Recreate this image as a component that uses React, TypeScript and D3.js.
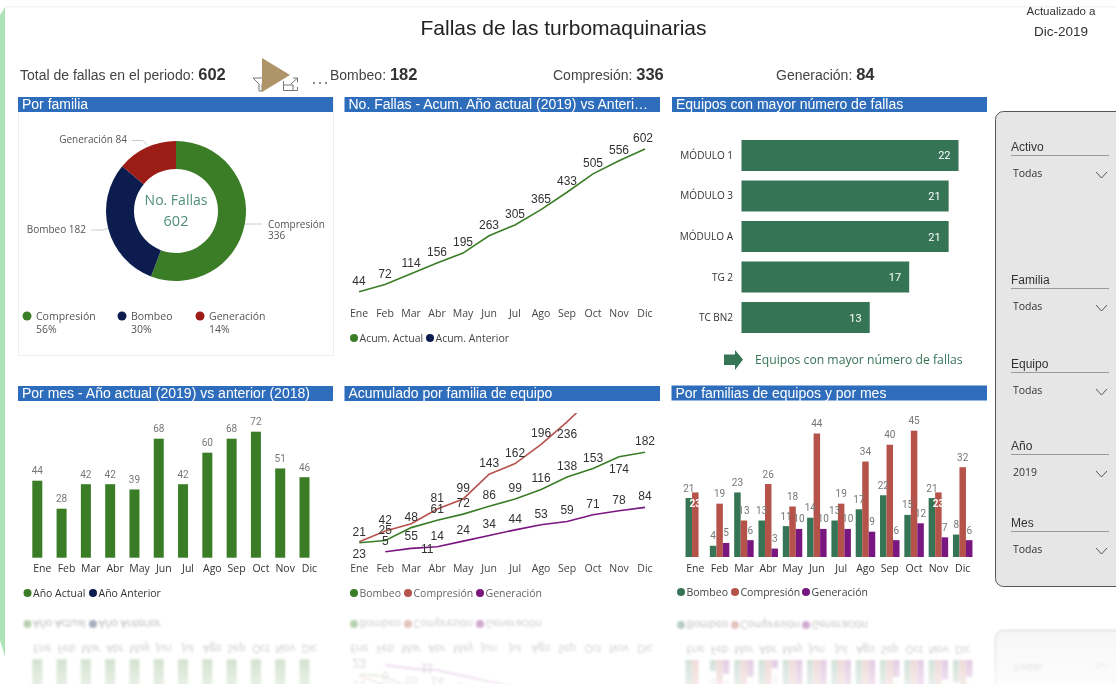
import React from "react";
import * as d3 from "d3";

const months = ["Ene","Feb","Mar","Abr","May","Jun","Jul","Ago","Sep","Oct","Nov","Dic"];
const familyNames = ["Compresión","Bombeo","Generación"];
const familyTotals = [336,182,84];
const familyShares = ["56%","30%","14%"];
const acumActual = [44,72,114,156,195,263,305,365,433,505,556,602];
const porMes = [44,28,42,42,39,68,42,60,68,72,51,46];
const equipos = ["MÓDULO 1","MÓDULO 3","MÓDULO A","TG 2","TC BN2"];
const equipoFallas = [22,21,21,17,13];
const bombeoMes = [21,4,23,13,11,14,13,17,22,15,21,8];
const compresionMes = [23,19,13,26,18,44,19,34,40,45,23,32];
const generacionMes = [0,5,6,3,10,10,10,9,6,12,7,6];
const bombeoAcum = [21,25,48,61,72,86,99,116,138,153,174,182];
const compresionAcum = [23,42,55,81,99,143,162,196,236,281,304,336];
const generacionAcum = [null,5,11,14,24,34,44,53,59,71,78,84];

const GREEN="#3a7d27", NAVY="#0a1f4f", DKRED="#9c1c13", TEAL="#367556", RED="#b5534c", PURPLE="#7a1580", HDR="#2f6dbb";
const ARIAL="'Liberation Sans', Arial, sans-serif", SEGOE="'Open Sans', 'Noto Sans', sans-serif", DIN="Roboto, sans-serif";

const Header=({x0,x1,y,text}:any)=>(<g>
  <rect x={x0} y={y} width={x1-x0} height={15} fill={HDR}/>
  <text x={x0+4} y={y+12} fontFamily={ARIAL} fontSize={14} fill="#fff">{text}</text>
</g>);
const Legend=({items,y,color="#444"}:any)=>(<g fontFamily={SEGOE} fontSize={10.5} fill={color}>
  {items.map((it:any)=>(<g key={it.t}>
    <circle cx={it.x} cy={y} r={4} fill={it.c}/>
    <text x={it.x+5.5} y={y+3.8}>{it.t}</text>
  </g>))}
</g>);
const Months=({scale,y,color="#444",dx=0}:any)=>(<g fontFamily={SEGOE} fontSize={10.5} fill={color} textAnchor="middle">
  {months.map(m=><text key={m} x={scale(m)+dx} y={y}>{m}</text>)}
</g>);
const Slicer=({label,value,y}:any)=>(<g>
  <text x={1011} y={y} fontFamily={ARIAL} fontSize={12} fill="#333">{label}</text>
  <line x1={1011} x2={1109} y1={y+4.5} y2={y+4.5} stroke="#999"/>
  <text x={1013} y={y+26} fontFamily={SEGOE} fontSize={10.5} fill="#333">{value}</text>
  <path d={`M1096 ${y+21} l5.5 6 l5.5 -6`} fill="none" stroke="#555"/>
</g>);

function Donut(){
  const arcs=d3.pie<number>().sort(null)(familyTotals);
  const arc=d3.arc<any>().innerRadius(42).outerRadius(70);
  const colors=[GREEN,NAVY,DKRED];
  const leg=[27,122,200];
  return <g>
    <rect x={18.5} y={97.5} width={315} height={258} fill="#fff" stroke="#eee"/>
    <Header x0={18} x1={333} y={97} text="Por familia"/>
    <g transform="translate(176,211)">
      {arcs.map((a,i)=><path key={i} d={arc(a) as string} fill={colors[i]}/>)}
      <text y={-6} textAnchor="middle" fontFamily={SEGOE} fontSize={14} fill="#4e8f78">No. Fallas</text>
      <text y={15} textAnchor="middle" fontFamily={SEGOE} fontSize={14.5} fill="#4e8f78">{familyTotals[0]+familyTotals[1]+familyTotals[2]}</text>
    </g>
    <g fontFamily={SEGOE} fontSize={10} fill="#555">
      <text x={127} y={143} textAnchor="end">{`${familyNames[2]} ${familyTotals[2]}`}</text>
      <text x={86} y={233} textAnchor="end">{`${familyNames[1]} ${familyTotals[1]}`}</text>
      <text x={268} y={228}>{familyNames[0]}</text>
      <text x={268} y={239}>{familyTotals[0]}</text>
      <path d="M132 140.5 H143 L147 145 M91 230 H103 L108 228.5 M245 224 H262" fill="none" stroke="#ccc"/>
    </g>
    <g fontFamily={SEGOE} fontSize={10.5} fill="#555">
      {familyNames.map((n,i)=><g key={n}>
        <circle cx={leg[i]} cy={316} r={4.5} fill={colors[i]}/>
        <text x={leg[i]+9} y={319.5}>{n}</text>
        <text x={leg[i]+9} y={333}>{familyShares[i]}</text>
      </g>)}
    </g>
  </g>;
}
function AcumLine(){
  const x=d3.scalePoint().domain(months).range([359,645]);
  const y=d3.scaleLinear().domain([0,602]).range([303,149]);
  const line=d3.line<number>().x((_,i)=>x(months[i])!).y(d=>y(d));
  return <g>
    <Header x0={344.5} x1={660} y={97} text="No. Fallas - Acum. Año actual (2019) vs Anteri…"/>
    <path d={line(acumActual)!} fill="none" stroke={GREEN} strokeWidth={1.6}/>
    <g fontFamily={ARIAL} fontSize={12} fill="#333" textAnchor="middle">
      {acumActual.map((v,i)=><text key={i} x={x(months[i])!-(i===11?2:0)} y={y(v)-7}>{v}</text>)}
    </g>
    <Months scale={x} y={317}/>
    <Legend y={338} items={[{x:354,t:"Acum. Actual",c:GREEN},{x:430,t:"Acum. Anterior",c:NAVY}]}/>
  </g>;
}
function HBars(){
  const y=d3.scaleBand().domain(equipos).range([140,333]).paddingInner(0.2346);
  const x=d3.scaleLinear().domain([0,22]).range([741.5,958.5]);
  return <g>
    <Header x0={672} x1={987} y={97} text="Equipos con mayor número de fallas"/>
    {equipos.map((e,i)=><g key={e}>
      <rect x={x(0)} y={y(e)} width={x(equipoFallas[i])-x(0)} height={y.bandwidth()} fill={TEAL}/>
      <text x={733} y={y(e)!+y.bandwidth()/2+3.5} textAnchor="end" fontFamily={SEGOE} fontSize={10} fill="#333">{e}</text>
      <text x={x(equipoFallas[i])-8} y={y(e)!+y.bandwidth()/2+4} textAnchor="end" fontFamily={DIN} fontSize={11} fill="#fff">{equipoFallas[i]}</text>
    </g>)}
    <path d="M724 354.5 H735 V350 L743 359.5 L735 370 V365 H724 Z" fill={TEAL}/>
    <text x={755} y={363.5} fontFamily={SEGOE} fontSize={12.2} fill={TEAL}>Equipos con mayor número de fallas</text>
  </g>;
}
function MesBars(){
  const x=d3.scalePoint().domain(months).range([37.3,304.5]);
  const y=d3.scaleLinear().domain([0,72]).range([557.7,431.7]);
  return <g>
    <Header x0={18} x1={333} y={386} text="Por mes - Año actual (2019) vs anterior (2018)"/>
    {porMes.map((v,i)=><g key={i}>
      <rect x={x(months[i])!-5} y={y(v)} width={10} height={y(0)-y(v)} fill={GREEN}/>
      <text x={x(months[i])} y={y(v)-6.5} textAnchor="middle" fontFamily={DIN} fontSize={10} fill="#777">{v}</text>
    </g>)}
    <Months scale={x} y={572} color="#333" dx={5}/>
    <Legend y={593} color="#333" items={[{x:27.5,t:"Año Actual",c:GREEN},{x:93,t:"Año Anterior",c:NAVY}]}/>
  </g>;
}
const compPlacement:Record<number,number>={0:1,2:1,8:1};
const bombPlacement:Record<number,number>={10:1};
function FamLines(){
  const x=d3.scalePoint().domain(months).range([359.3,645]);
  const y=d3.scaleLinear().domain([0,182]).range([554.6,452.3]);
  const line=d3.line<any>().defined(d=>d!=null).x((_,i)=>x(months[i])!).y(d=>y(d));
  const series=[
    {v:bombeoAcum,c:GREEN,below:bombPlacement},
    {v:compresionAcum,c:RED,below:compPlacement},
    {v:generacionAcum,c:PURPLE,below:{}},
  ];
  return <g>
    <Header x0={344.5} x1={660} y={386} text="Acumulado por familia de equipo"/>
    <clipPath id="fl"><rect x={345} y={413} width={315} height={150}/></clipPath>
    <g clipPath="url(#fl)">
      {series.map((s,k)=><path key={k} d={line(s.v as any)!} fill="none" stroke={s.c} strokeWidth={1.6}/>)}
      <g fontFamily={ARIAL} fontSize={12} fill="#333" textAnchor="middle">
        {series.map((s,k)=>s.v.map((v:any,i:number)=>{
          if(v==null) return null;
          const special=k===2&&i===2;
          const yy=special?y(v)+4.5:(s.below as any)[i]?y(v)+16:y(v)-7;
          return <text key={k+"-"+i} x={x(months[i])!+(special?16:0)} y={yy}>{v}</text>;
        }))}
      </g>
    </g>
    <Months scale={x} y={572}/>
    <Legend y={593} color="#666" items={[{x:354,t:"Bombeo",c:GREEN},{x:408,t:"Compresión",c:RED},{x:480,t:"Generación",c:PURPLE}]}/>
  </g>;
}
function GroupBars(){
  const x=d3.scalePoint().domain(months).range([695.3,962.7]);
  const y=d3.scaleLinear().domain([0,45]).range([557,430.7]);
  const sub=d3.scaleBand().domain(["b","c","g"]).range([-9.75,9.75]);
  const series=[{k:"b",v:bombeoMes,c:TEAL},{k:"c",v:compresionMes,c:RED},{k:"g",v:generacionMes,c:PURPLE}];
  return <g>
    <Header x0={671.5} x1={987} y={385.5} text="Por familias de equipos y por mes"/>
    {series.map(s=>s.v.map((v,i)=>v>0?<rect key={s.k+i} x={x(months[i])!+sub(s.k)!} y={y(v)} width={sub.bandwidth()} height={y(0)-y(v)} fill={s.c}/>:null))}
    <g fontFamily={DIN} fontSize={10} textAnchor="middle">
      {series.map(s=>s.v.map((v,i)=>{
        if(v<=0) return null;
        const inside=s.k==="c"&&v===23&&i!==2;
        return <text key={s.k+i} x={x(months[i])!+sub(s.k)!+sub.bandwidth()/2} y={inside?y(v)+15:y(v)-6.5} fill={inside?"#fff":"#777"} fontWeight={inside?700:400}>{v}</text>;
      }))}
    </g>
    <Months scale={x} y={571.5} color="#333"/>
    <Legend y={592} color="#444" items={[{x:681,t:"Bombeo",c:TEAL},{x:735,t:"Compresión",c:RED},{x:806,t:"Generación",c:PURPLE}]}/>
  </g>;
}
const Stat=({x,label,value}:any)=>(<text x={x} y={80} fontFamily={ARIAL} fontSize={14} fill="#444">{label} <tspan fontWeight={700} fontSize={16.5} fill="#333">{value}</tspan></text>);
function Page(){
  return <g>
    <text x={563.5} y={35} textAnchor="middle" fontFamily={ARIAL} fontSize={21} fill="#222">Fallas de las turbomaquinarias</text>
    <text x={1061} y={15} textAnchor="middle" fontFamily={ARIAL} fontSize={11.5} fill="#333">Actualizado a</text>
    <text x={1061} y={36} textAnchor="middle" fontFamily={ARIAL} fontSize={13.5} fill="#333">Dic-2019</text>
    <Stat x={20} label="Total de fallas en el periodo:" value={familyTotals[0]+familyTotals[1]+familyTotals[2]}/>
    <Stat x={330} label="Bombeo:" value={familyTotals[1]}/>
    <Stat x={553} label="Compresión:" value={familyTotals[0]}/>
    <Stat x={776} label="Generación:" value={familyTotals[2]}/>
    <path d="M253 78 H268 L262 84 V91 L259 91 V84 Z" fill="#fff" stroke="#777"/>
    <path d="M262 58 L290 75 L262 92 Z" fill="#b09469"/>
    <path d="M283.5 81 V90.5 H297.5 V87 M283.5 85 H293 V90.5 M293 78 H297.5 V82.5 M297.5 78 L291 84" fill="none" stroke="#777"/>
    <g fill="#666"><circle cx={314} cy={83} r={1}/><circle cx={320} cy={83} r={1}/><circle cx={326} cy={83} r={1}/></g>
    <Donut/><AcumLine/><HBars/><MesBars/><FamLines/><GroupBars/>
    <rect x={995.5} y={111.5} width={140} height={475} rx={8} fill="#e6e6e6" stroke="#555"/>
    <Slicer label="Activo" value="Todas" y={151}/>
    <Slicer label="Familia" value="Todas" y={284}/>
    <Slicer label="Equipo" value="Todas" y={368}/>
    <Slicer label="Año" value="2019" y={450}/>
    <Slicer label="Mes" value="Todas" y={527}/>
  </g>;
}
export default function App(){
  return <svg width={1116} height={684} viewBox="0 0 1116 684" style={{position:"absolute",left:0,top:0,background:"#fff"}}>
    <defs>
      <filter id="soft" x="-2%" y="-2%" width="104%" height="104%"><feGaussianBlur stdDeviation="0.35"/></filter>
      <filter id="blur" x="-2%" y="-2%" width="104%" height="104%"><feGaussianBlur stdDeviation="1.1"/></filter>
      <linearGradient id="fade" x1="0" y1="609" x2="0" y2="684" gradientUnits="userSpaceOnUse">
        <stop offset="0" stopColor="#fff" stopOpacity="0.42"/>
        <stop offset="1" stopColor="#fff" stopOpacity="0.12"/>
      </linearGradient>
      <mask id="fm" maskUnits="userSpaceOnUse" x="0" y="605" width="1116" height="79"><rect x="0" y="605" width="1116" height="79" fill="url(#fade)"/></mask>
      <clipPath id="below"><rect x={0} y={606} width={1116} height={78}/></clipPath>
    </defs>
    <path d="M0 15 L5 7 V657 L0 640 Z" fill="#aee3b5"/>
    <rect x={6} y={6} width={1110} height={1.5} fill="#f4f4f4"/>
    <g filter="url(#soft)"><g id="page"><Page/></g></g>
    <g clipPath="url(#below)"><g mask="url(#fm)"><g filter="url(#blur)"><use href="#page" transform="translate(0,1217) scale(1,-1)"/></g></g></g>
  </svg>;
}
